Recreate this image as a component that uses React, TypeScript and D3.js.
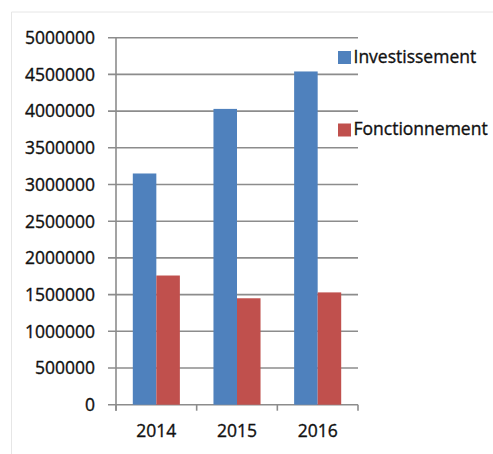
import React from 'react';
import * as d3 from 'd3';

const years = ['2014', '2015', '2016'];
const seriesNames = ['Investissement', 'Fonctionnement'];
const investissement = [3150000, 4030000, 4540000];
const fonctionnement = [1760000, 1450000, 1530000];
const yTicks = [0, 500000, 1000000, 1500000, 2000000, 2500000, 3000000, 3500000, 4000000, 4500000, 5000000];

const colors = ['#4f81bd', '#c0504d'];
const font = '"Open Sans", sans-serif';
const textColor = '#111';

const App = () => {
    const width = 493;
    const height = 454;
    const left = 116;
    const right = 358;
    const top = 37.7;
    const bottom = 404.7;

    const yScale = d3.scaleLinear().domain([0, 5000000]).range([bottom, top]);
    const x0 = d3.scaleBand().domain(years).range([left, right]).padding(0);
    const pad = 16.8;
    const x1 = d3.scaleBand().domain(seriesNames).range([pad, x0.bandwidth() - pad]).padding(0);

    const values = [investissement, fonctionnement];
    const boundaries = [...years.map(y => x0(y)), right];

    // text style, slightly heavier to mimic the rendered Calibri
    const txt = {fontFamily: font, fontSize: 17.5, fill: textColor, stroke: textColor, strokeWidth: 0.35};

    return (
        <svg width={width} height={height} style={{position: 'absolute', left: 0, top: 0, background: '#fff'}}>
            {/* faint frame */}
            <line x1={11.5} x2={width} y1={12} y2={12} stroke="#e6e6e6" strokeWidth={1}/>
            <line x1={11.5} x2={11.5} y1={12} y2={height} stroke="#e6e6e6" strokeWidth={1}/>

            {/* gridlines + y ticks */}
            {yTicks.map(t => (
                <g key={t}>
                    <line x1={left - 8} x2={right} y1={yScale(t)} y2={yScale(t)}
                          stroke="#8c8c8c" strokeWidth={1.6}/>
                    <text x={95} y={yScale(t)} dy="0.36em" textAnchor="end" {...txt}>{t}</text>
                </g>
            ))}

            {/* bars */}
            {years.map((yr, i) => (
                <g key={yr} transform={`translate(${x0(yr)},0)`}>
                    {seriesNames.map((s, j) => (
                        <rect key={s} x={x1(s)} width={x1.bandwidth()}
                              y={yScale(values[j][i])} height={bottom - yScale(values[j][i])}
                              fill={colors[j]}/>
                    ))}
                </g>
            ))}

            {/* y axis */}
            <line x1={left} x2={left} y1={top} y2={bottom + 6} stroke="#8c8c8c" strokeWidth={1.6}/>
            {/* x axis ticks */}
            {boundaries.map((b, i) => (
                <line key={i} x1={b} x2={b} y1={bottom} y2={bottom + 6} stroke="#8c8c8c" strokeWidth={1.6}/>
            ))}

            {/* x labels */}
            {years.map(yr => (
                <text key={yr} x={(x0(yr) as number) + x0.bandwidth() / 2} y={436.5} textAnchor="middle" {...txt}>{yr}</text>
            ))}

            {/* legend */}
            {seriesNames.map((s, j) => (
                <g key={s} transform={`translate(338,${j === 0 ? 51 : 123.5})`}>
                    <rect x={0} y={0} width={13} height={13} fill={colors[j]}/>
                    <text x={15.5} y={11.5} {...txt}>{s}</text>
                </g>
            ))}
        </svg>
    );
};

export default App;
